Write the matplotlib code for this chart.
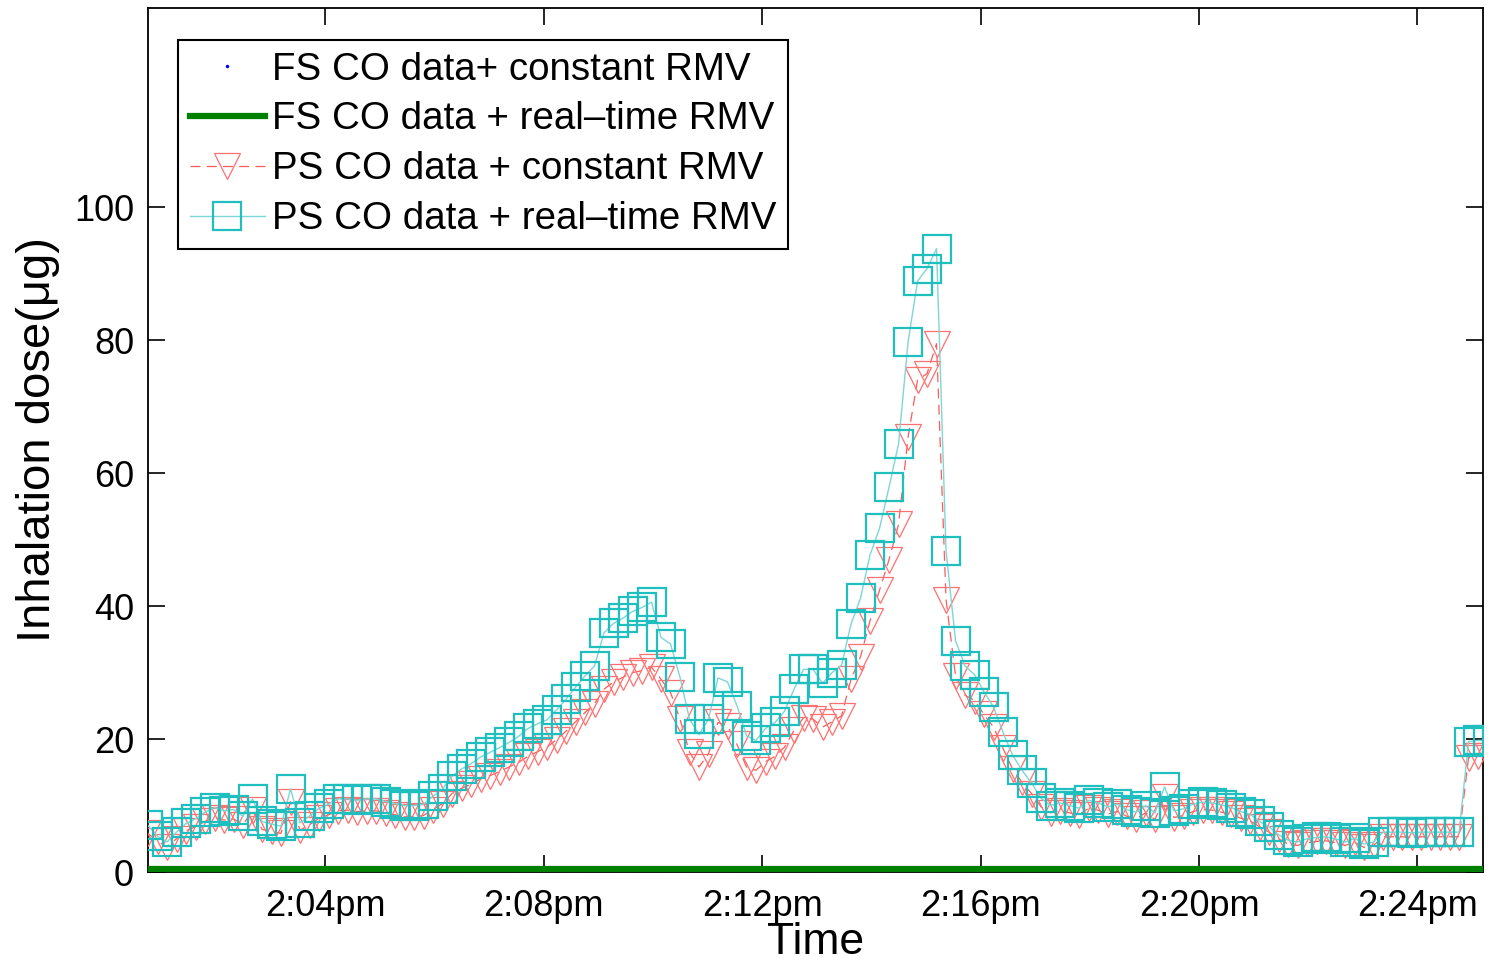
import numpy as np
import matplotlib
matplotlib.use("Agg")
import matplotlib.pyplot as plt
from matplotlib.ticker import FixedLocator

plt.rcParams['font.family'] = ['Liberation Sans', 'DejaVu Sans']

# ---------------- data ----------------
start_s = 45.0          # first sample at 2:00:45 pm
sample_step_s = 10.44   # sampling interval (s)

ps_real = [
    7.0, 5.4, 4.5, 6.0, 7.3, 8.0, 9.0, 9.7, 9.2, 9.4,
    8.4, 11.0, 7.6, 7.2, 6.9, 12.5, 7.4, 8.4, 9.6, 10.2,
    11.0, 11.0, 10.8, 11.0, 11.0, 10.6, 10.3, 10.0, 10.0, 10.2,
    11.4, 12.5, 14.4, 15.5, 16.3, 17.3, 18.0, 18.7, 19.5, 20.4,
    21.6, 22.3, 22.9, 24.4, 26.0, 27.8, 29.5, 31.0, 36.0, 37.4,
    38.2, 39.2, 39.8, 40.6, 35.3, 34.3, 29.3, 23.0, 20.7, 23.0,
    29.2, 28.6, 25.0, 20.5, 19.8, 21.6, 22.5, 24.2, 27.5, 30.5,
    30.5, 28.4, 30.0, 31.1, 37.3, 41.2, 47.7, 51.7, 57.9, 64.4,
    79.7, 88.9, 90.8, 93.8, 48.3, 34.8, 31.0, 29.7, 27.1, 24.8,
    21.0, 17.6, 15.3, 13.4, 11.1, 10.0, 10.4, 10.0, 9.6, 10.8,
    10.4, 9.8, 10.2, 9.4, 9.0, 10.0, 8.9, 12.8, 9.2, 9.5,
    10.2, 10.5, 10.4, 10.1, 9.7, 9.1, 8.7, 7.6, 6.8, 5.6,
    4.8, 4.5, 5.0, 5.2, 5.3, 5.0, 4.5, 5.1, 4.2, 4.5,
    6.0, 6.0, 6.0, 5.9, 6.0, 6.0, 6.0, 6.0, 6.0, 19.6,
    19.8, 19.8,
]

ps_const = [
    5.8, 4.6, 3.8, 5.0, 6.2, 6.8, 7.6, 8.2, 7.8, 8.0,
    7.1, 9.3, 6.4, 6.1, 5.8, 10.6, 6.3, 7.1, 8.1, 8.6,
    9.2, 9.3, 9.1, 9.2, 9.2, 8.9, 8.6, 8.3, 8.3, 8.5,
    9.4, 10.3, 11.8, 12.6, 13.2, 14.0, 14.5, 15.1, 15.8, 16.5,
    17.4, 18.1, 18.8, 19.9, 21.2, 22.6, 24.0, 25.3, 27.5, 28.6,
    29.3, 30.0, 30.3, 30.8, 29.0, 27.0, 23.0, 18.0, 15.8, 17.8,
    22.5, 22.0, 19.2, 15.8, 15.3, 16.6, 17.4, 18.8, 21.3, 23.2,
    23.0, 21.8, 22.6, 23.5, 29.0, 32.4, 37.8, 42.4, 47.0, 52.3,
    65.4, 74.0, 75.0, 79.5, 41.0, 29.5, 26.6, 25.8, 23.7, 21.8,
    18.6, 15.5, 13.5, 11.8, 9.8, 8.9, 9.2, 8.9, 8.6, 9.6,
    9.3, 8.7, 9.1, 8.4, 8.0, 8.9, 7.9, 11.3, 8.2, 8.5,
    9.1, 9.4, 9.3, 9.0, 8.7, 8.1, 7.7, 6.8, 6.0, 5.0,
    4.2, 4.0, 4.4, 4.6, 4.7, 4.4, 4.0, 4.5, 3.7, 4.0,
    5.3, 5.3, 5.3, 5.2, 5.3, 5.3, 5.3, 5.3, 5.3, 17.2,
    17.4, 17.4,
]

fs_const = [
    0.3, 0.3, 0.3, 0.3, 0.3, 0.3, 0.3, 0.3, 0.3, 0.3,
    0.3, 0.3, 0.3, 0.3, 0.3, 0.3, 0.3, 0.3, 0.3, 0.3,
    0.3, 0.3, 0.3, 0.3, 0.3, 0.3, 0.3, 0.3, 0.3, 0.3,
    0.3, 0.3, 0.3, 0.3, 0.3, 0.3, 0.3, 0.3, 0.3, 0.3,
    0.3, 0.3, 0.3, 0.3, 0.3, 0.3, 0.3, 0.3, 0.3, 0.3,
    0.3, 0.3, 0.3, 0.3, 0.3, 0.3, 0.3, 0.3, 0.3, 0.3,
    0.3, 0.3, 0.3, 0.3, 0.3, 0.3, 0.3, 0.3, 0.3, 0.3,
    0.3, 0.3, 0.3, 0.3, 0.3, 0.3, 0.3, 0.3, 0.3, 0.3,
    0.3, 0.3, 0.3, 0.3, 0.3, 0.3, 0.3, 0.3, 0.3, 0.3,
    0.3, 0.3, 0.3, 0.3, 0.3, 0.3, 0.3, 0.3, 0.3, 0.3,
    0.3, 0.3, 0.3, 0.3, 0.3, 0.3, 0.3, 0.3, 0.3, 0.3,
    0.3, 0.3, 0.3, 0.3, 0.3, 0.3, 0.3, 0.3, 0.3, 0.3,
    0.3, 0.3, 0.3, 0.3, 0.3, 0.3, 0.3, 0.3, 0.3, 0.3,
    0.3, 0.3, 0.3, 0.3, 0.3, 0.3, 0.3, 0.3, 0.3, 0.3,
    0.3, 0.3,
]

fs_real = [
    0.5, 0.5, 0.5, 0.5, 0.5, 0.5, 0.5, 0.5, 0.5, 0.5,
    0.5, 0.5, 0.5, 0.5, 0.5, 0.5, 0.5, 0.5, 0.5, 0.5,
    0.5, 0.5, 0.5, 0.5, 0.5, 0.5, 0.5, 0.5, 0.5, 0.5,
    0.5, 0.5, 0.5, 0.5, 0.5, 0.5, 0.5, 0.5, 0.5, 0.5,
    0.5, 0.5, 0.5, 0.5, 0.5, 0.5, 0.5, 0.5, 0.5, 0.5,
    0.5, 0.5, 0.5, 0.5, 0.5, 0.5, 0.5, 0.5, 0.5, 0.5,
    0.5, 0.5, 0.5, 0.5, 0.5, 0.5, 0.5, 0.5, 0.5, 0.5,
    0.5, 0.5, 0.5, 0.5, 0.5, 0.5, 0.5, 0.5, 0.5, 0.5,
    0.5, 0.5, 0.5, 0.5, 0.5, 0.5, 0.5, 0.5, 0.5, 0.5,
    0.5, 0.5, 0.5, 0.5, 0.5, 0.5, 0.5, 0.5, 0.5, 0.5,
    0.5, 0.5, 0.5, 0.5, 0.5, 0.5, 0.5, 0.5, 0.5, 0.5,
    0.5, 0.5, 0.5, 0.5, 0.5, 0.5, 0.5, 0.5, 0.5, 0.5,
    0.5, 0.5, 0.5, 0.5, 0.5, 0.5, 0.5, 0.5, 0.5, 0.5,
    0.5, 0.5, 0.5, 0.5, 0.5, 0.5, 0.5, 0.5, 0.5, 0.5,
    0.5, 0.5,
]

series_labels = [
    "FS CO data+ constant RMV",
    "FS CO data + real\u2013time RMV",
    "PS CO data + constant RMV",
    "PS CO data + real\u2013time RMV",
]

xtick_minutes = [4, 8, 12, 16, 20, 24]
xtick_labels = ["2:04pm", "2:08pm", "2:12pm", "2:16pm", "2:20pm", "2:24pm"]
ytick_values = [0, 20, 40, 60, 80, 100]

def minutes(n):
    return (start_s + sample_step_s * np.arange(n)) / 60.0

# ---------------- figure ----------------
W, H = 1491, 966
fig = plt.figure(figsize=(W / 100, H / 100), dpi=100)
ax = fig.add_axes([148 / W, 1 - 872 / H, (1483 - 148) / W, (872 - 8) / H])

ax.plot(minutes(len(fs_const)), fs_const, linestyle='none', marker='.',
        color='blue', ms=3, label=series_labels[0], zorder=2)
ax.plot(minutes(len(fs_real)), fs_real, color='#008000', lw=4.5,
        label=series_labels[1], zorder=3)
ax.plot(minutes(len(ps_const)), ps_const, color='#ff5a5a', lw=0.9,
        ls=(0, (8, 5)), marker='v', ms=19, mfc='none', mec='#ff7070',
        mew=0.9, label=series_labels[2], zorder=4)
ax.plot(minutes(len(ps_real)), ps_real, color='#7fd6d6', lw=1.0,
        marker='s', ms=20, mfc='none', mec='#1fbfbf', mew=1.6,
        label=series_labels[3], zorder=5)

ax.set_xlim(0.75, 0.75 + (1483 - 148) / 54.6)
ax.set_ylim(0, 130)
ax.xaxis.set_major_locator(FixedLocator(xtick_minutes))
ax.set_xticklabels(xtick_labels)
ax.yaxis.set_major_locator(FixedLocator(ytick_values))
ax.set_yticklabels([str(v) for v in ytick_values])

ax.tick_params(direction='in', length=12, width=1.2, top=True, right=True,
               labelsize=26, pad=10)
ax.tick_params(axis='x', pad=12)
for s in ax.spines.values():
    s.set_linewidth(1.3)

ax.set_xlabel("Time", fontsize=32, labelpad=-1)
ax.set_ylabel("Inhalation dose(\u03bcg)", fontsize=34, labelpad=10)

leg = ax.legend(loc='upper left', bbox_to_anchor=(0.0225, 0.963),
                borderaxespad=0, fontsize=27.7, frameon=True, fancybox=False,
                edgecolor='black', framealpha=1, handlelength=1.95,
                handletextpad=0.2, labelspacing=0.36, borderpad=0.3)
leg.get_frame().set_linewidth(1.5)

fig.savefig("out.png", dpi=100)
